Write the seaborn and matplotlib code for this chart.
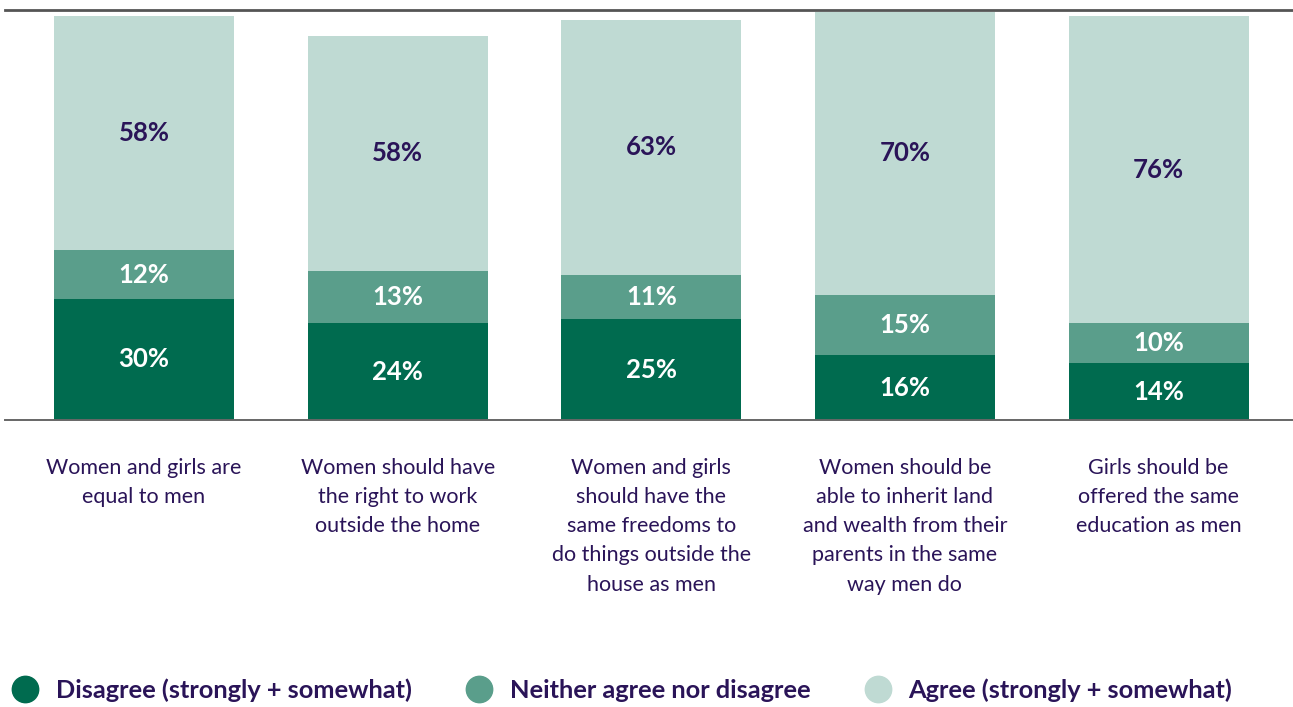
import matplotlib
matplotlib.use("Agg")
import matplotlib.pyplot as plt
from matplotlib.lines import Line2D
import seaborn as sns
import pandas as pd
import numpy as np

# Survey statements and response shares (%)
statements = [
    "Women and girls are\nequal to men",
    "Women should have\nthe right to work\noutside the home",
    "Women and girls\nshould have the\nsame freedoms to\ndo things outside the\nhouse as men",
    "Women should be\nable to inherit land\nand wealth from their\nparents in the same\nway men do",
    "Girls should be\noffered the same\neducation as men",
]
disagree = [30, 24, 25, 16, 14]
neither = [12, 13, 11, 15, 10]
agree = [58, 58, 63, 70, 76]

series_names = ["Disagree (strongly + somewhat)", "Neither agree nor disagree", "Agree (strongly + somewhat)"]
colors = ["#006B4F", "#5A9E8B", "#BFDAD3"]
label_colors = ["white", "white", "#2A1458"]
text_color = "#2A1458"

sns.set_theme(style="white")
plt.rcParams["font.family"] = ["Lato", "DejaVu Sans"]

df = pd.DataFrame({
    "statement": statements,
    "disagree": disagree,
    "neither": neither,
    "agree": agree,
})
df["top_neither"] = df["disagree"] + df["neither"]
df["top_agree"] = df["top_neither"] + df["agree"]

fig = plt.figure(figsize=(12.93, 7.07), dpi=100)
ax = fig.add_axes([5 / 1293, 1 - 420 / 707, 1 - 5 / 1293, 410 / 707])

# Stacked bars drawn as overlapping cumulative layers
layer_cols = ["top_agree", "top_neither", "disagree"]
layer_colors = [colors[2], colors[1], colors[0]]
for col, c in zip(layer_cols, layer_colors):
    sns.barplot(data=df, x="statement", y=col, color=c, width=0.71,
                saturation=1, errorbar=None, ax=ax, zorder=2,
                linewidth=0, edgecolor="none")

# Segment value labels
bottoms = [np.zeros(len(df)), df["disagree"].values, df["top_neither"].values]
values = [df["disagree"].values, df["neither"].values, df["agree"].values]
for vals, bots, lc in zip(values, bottoms, label_colors):
    for i, (v, b) in enumerate(zip(vals, bots)):
        ax.text(i, b + v / 2, f"{v}%", ha="center", va="center",
                color=lc, fontsize=18.5, fontweight="bold", zorder=3)

ax.set_xlim(-0.548, 4.53)
ax.set_ylim(0, 410 / 4.04)
ax.set_xlabel("")
ax.set_ylabel("")
ax.set_yticks([])
ax.tick_params(axis="x", length=0, pad=27, labelsize=15.5, labelcolor=text_color)
for lbl in ax.get_xticklabels():
    lbl.set_linespacing(1.58)
    lbl.set_verticalalignment("top")

for side in ["left", "right"]:
    ax.spines[side].set_visible(False)
ax.spines["top"].set_color("#555555")
ax.spines["top"].set_linewidth(2)
ax.spines["bottom"].set_color("#666666")
ax.spines["bottom"].set_linewidth(1.4)

handles = [Line2D([0], [0], marker="o", linestyle="", markersize=19,
                  markerfacecolor=c, markeredgecolor=c) for c in colors]
leg = fig.legend(handles, series_names, loc="center left", ncol=3,
                 bbox_to_anchor=(10 / 1293, 1 - 690 / 707), frameon=False,
                 handletextpad=0.6, columnspacing=2.05, handlelength=1.2,
                 borderaxespad=0, borderpad=0, prop={"size": 18.3, "weight": "bold"})
for t in leg.get_texts():
    t.set_color(text_color)

fig.savefig("out.png", dpi=100)
